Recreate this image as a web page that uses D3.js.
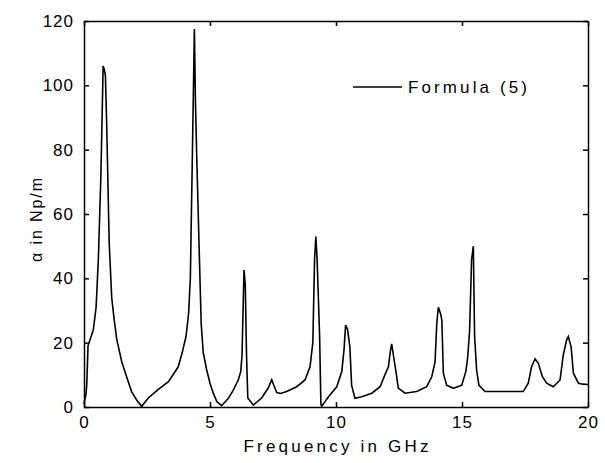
<!DOCTYPE html>
<html>
<head>
<meta charset="utf-8">
<script src="https://cdn.jsdelivr.net/npm/d3@7"></script>
<style>
  body { margin: 0; background: #fff; }
  text { font-family: "Liberation Sans", Arial, sans-serif; fill: #000; }
</style>
</head>
<body>
<div id="chart"></div>
<script>
// attenuation, frequency in GHz
const freq = [0, 0.08, 0.11, 0.16, 0.2, 0.37, 0.48, 0.57, 0.67, 0.76, 0.8, 0.85, 0.9, 1.0, 1.1, 1.2, 1.3, 1.5, 1.69, 1.89, 2.09, 2.29,
  2.55, 2.95, 3.35, 3.74, 3.9, 4.05, 4.15, 4.22, 4.3, 4.38, 4.42, 4.47, 4.55, 4.65, 4.73, 4.87, 5.0, 5.13, 5.27, 5.46,
  5.73, 5.93, 6.12, 6.22, 6.27, 6.35, 6.4, 6.45, 6.5, 6.72, 7.05, 7.31, 7.45, 7.52, 7.65, 7.8, 8.04, 8.44, 8.77, 8.97,
  9.08, 9.15, 9.2, 9.25, 9.35, 9.4, 9.43, 9.7, 10.03, 10.23, 10.32, 10.38, 10.46, 10.55, 10.62, 10.75, 11.02, 11.42,
  11.75, 11.94, 12.08, 12.15, 12.21, 12.3, 12.4, 12.47, 12.74, 13.2, 13.6, 13.8, 13.93, 14.0, 14.06, 14.15, 14.2, 14.26,
  14.39, 14.66, 14.99, 15.15, 15.22, 15.3, 15.38, 15.45, 15.5, 15.58, 15.67, 15.91, 16.3, 16.7, 17.0, 17.43, 17.63,
  17.76, 17.9, 18.03, 18.19, 18.36, 18.62, 18.89, 19.02, 19.15, 19.22, 19.33, 19.42, 19.62, 19.8, 20];
const alpha = [1, 4, 7, 19, 20, 24, 31, 46, 72, 106, 105, 103, 88, 51, 34, 27, 21, 14, 9.4, 4.8, 2.2, 0.2,
  2.8, 5.5, 7.9, 12.5, 17, 22, 29, 40, 78, 117.5, 96, 79, 55, 26, 17, 11.5, 7.4, 4.3, 1.7, 0.4,
  2.7, 5.3, 8.4, 11, 16, 42.6, 38, 16, 2.8, 0.6, 2.8, 5.9, 8.5, 7, 4.5, 4.2, 4.8, 6.3, 8.4, 12.5,
  20, 46, 53, 46, 22, 1, 0.2, 3.2, 6.3, 11, 18, 25.5, 24, 18.7, 6.8, 2.7, 3.2, 4.3,
  6.3, 10, 12.5, 17, 19.6, 15, 10, 5.9, 4.3, 4.8, 6.3, 9.4, 14, 26, 31, 29, 27, 10.5,
  6.8, 5.8, 6.8, 11, 15, 23.4, 45.7, 50, 22, 11.5, 6.8, 4.8, 4.8, 4.8, 4.8, 4.8, 7.4,
  12.5, 15, 13.6, 9.4, 7.4, 6.3, 8.4, 16.2, 20.8, 21.9, 18.7, 10.5, 7.4, 7.1, 7];
const xTicks = [0, 5, 10, 15, 20];
const yTicks = [0, 20, 40, 60, 80, 100, 120];
const seriesName = 'Formula (5)';

const width = 605, height = 463;
const margin = { left: 84, right: 17, top: 21, bottom: 56 };
const plotW = width - margin.left - margin.right;
const plotH = height - margin.top - margin.bottom;

const svg = d3.select('#chart').append('svg')
  .attr('width', width)
  .attr('height', height);

const x = d3.scaleLinear().domain([0, 20]).range([0, plotW]);
const y = d3.scaleLinear().domain([0, 120]).range([plotH, 0]);

const g = svg.append('g').attr('transform', `translate(${margin.left},${margin.top})`);

// curve
const line = d3.line().x((d, i) => x(freq[i])).y((d) => y(d));
g.append('path')
  .datum(alpha)
  .attr('fill', 'none')
  .attr('stroke', '#000')
  .attr('stroke-width', 1.6)
  .attr('stroke-linejoin', 'miter')
  .attr('d', line);

// axes, matlab style: ticks inside on all four sides
const tickLen = -5;
const styleAxis = (sel) => {
  sel.selectAll('path.domain').attr('stroke', '#000').attr('stroke-width', 1.5);
  sel.selectAll('.tick line').attr('stroke', '#000').attr('stroke-width', 1.5);
  sel.selectAll('.tick text').style('font-size', '17px').style('letter-spacing', '1px');
};

g.append('g')
  .attr('transform', `translate(0,${plotH})`)
  .call(d3.axisBottom(x).tickValues(xTicks).tickSize(tickLen).tickSizeOuter(0).tickPadding(9).tickFormat(d3.format('d')))
  .call(styleAxis);
g.append('g')
  .call(d3.axisTop(x).tickValues(xTicks).tickSize(tickLen).tickSizeOuter(0).tickFormat(''))
  .call(styleAxis);
g.append('g')
  .call(d3.axisLeft(y).tickValues(yTicks).tickSize(tickLen).tickSizeOuter(0).tickPadding(10).tickFormat(d3.format('d')))
  .call(styleAxis);
g.append('g')
  .attr('transform', `translate(${plotW},0)`)
  .call(d3.axisRight(y).tickValues(yTicks).tickSize(tickLen).tickSizeOuter(0).tickFormat(''))
  .call(styleAxis);

svg.selectAll('.tick text').attr('font-family', null);

// axis titles
svg.append('text')
  .attr('x', margin.left + plotW / 2)
  .attr('y', 452)
  .attr('text-anchor', 'middle')
  .style('font-size', '17px')
  .attr('textLength', 185)
  .attr('lengthAdjust', 'spacing')
  .text('Frequency in GHz');

svg.append('text')
  .attr('transform', `translate(42,${margin.top + plotH / 2 + 6}) rotate(-90)`)
  .attr('text-anchor', 'middle')
  .style('font-size', '16px')
  .attr('textLength', 84)
  .attr('lengthAdjust', 'spacing')
  .text('α in Np/m');

// legend
const legend = g.append('g');
legend.append('line')
  .attr('x1', 353 - margin.left).attr('x2', 402 - margin.left)
  .attr('y1', 87 - margin.top).attr('y2', 87 - margin.top)
  .attr('stroke', '#000').attr('stroke-width', 1.6);
legend.append('text')
  .attr('x', 408 - margin.left)
  .attr('y', 93 - margin.top)
  .style('font-size', '17px')
  .attr('textLength', 119)
  .attr('lengthAdjust', 'spacing')
  .text(seriesName);
</script>
</body>
</html>
